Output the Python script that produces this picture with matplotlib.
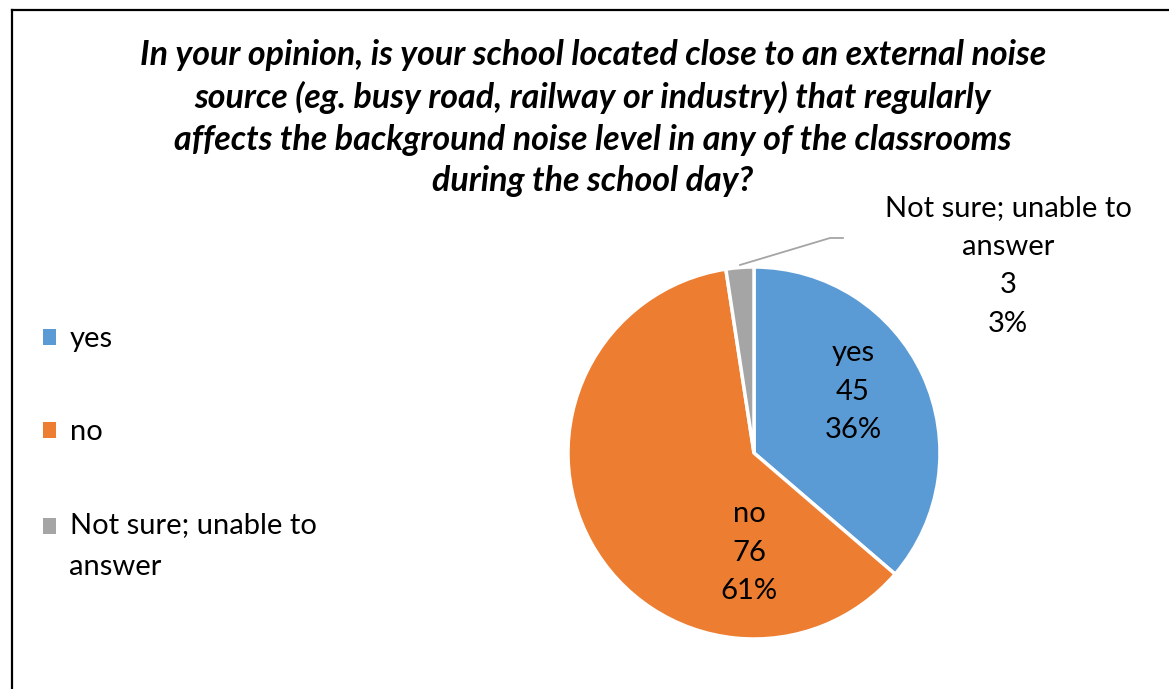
import matplotlib
matplotlib.use('Agg')
import matplotlib.pyplot as plt
from matplotlib.lines import Line2D
from matplotlib.patches import Patch

plt.rcParams['font.family'] = ['Lato', 'DejaVu Sans']

# data
categories = ['yes', 'no', 'Not sure; unable to\nanswer']
counts = [45, 76, 3]
pct_labels = ['36%', '61%', '3%']
colors = ['#5B9BD5', '#ED7D31', '#A5A5A5']
title = ('In your opinion, is your school located close to an external noise\n'
         'source (eg. busy road, railway or industry) that regularly\n'
         'affects the background noise level in any of the classrooms\n'
         'during the school day?')

W, H = 1169, 689
fig = plt.figure(figsize=(W / 100, H / 100), dpi=100)

# pie axes, centre (754, 453) px, radius 186 px
cx, cy, r = 754, 453, 186
ax = fig.add_axes([(cx - r) / W, (H - cy - r) / H, 2 * r / W, 2 * r / H])
wedges, _ = ax.pie(counts, colors=colors, startangle=90, counterclock=False,
                   radius=1, wedgeprops=dict(edgecolor='white', linewidth=2.5))
ax.set_xlim(-1, 1)
ax.set_ylim(-1, 1)
ax.set_aspect('equal')
ax.axis('off')

# data labels (positions picked like excel's best fit)
label_xy = [(0.532, 0.33), (-0.027, -0.535), (1.366, 1.005)]
for name, n, p, (x, y) in zip(categories, counts, pct_labels, label_xy):
    ax.text(x, y, f'{name}\n{n}\n{p}', ha='center', va='center',
            fontsize=21, linespacing=1.6, color='black')

# leader line for small slice
ax.add_line(Line2D([-0.075, 0.409, 0.478], [1.011, 1.156, 1.156],
                   color='#A5A5A5', linewidth=1.3, clip_on=False))

# legend
handles = [Patch(facecolor=c, edgecolor='none') for c in colors]
leg = fig.legend(handles, categories, loc='upper left',
                 bbox_to_anchor=(17 / W, 1 - 300 / H), frameon=False, fontsize=21,
                 handlelength=0.45, handleheight=0.45, handletextpad=0.45,
                 labelspacing=2.3)
for t in leg.get_texts():
    t.set_linespacing(1.75)
# excel puts the marker next to the first line of a wrapped entry
h = leg.legend_handles[2]
h.set_y(h.get_y() + 14.5)

fig.text(593 / W, 1 - 118 / H, title, ha='center', va='center',
         fontsize=24.5, fontweight='bold', fontstyle='italic', linespacing=1.37)

# frame (only top and left edges are in view)
fig.add_artist(Line2D([12 / W, 1], [1 - 10 / H, 1 - 10 / H], color='black',
                      linewidth=1.6, transform=fig.transFigure))
fig.add_artist(Line2D([12 / W, 12 / W], [0, 1 - 10 / H], color='black',
                      linewidth=1.6, transform=fig.transFigure))

fig.savefig('out.png', dpi=100)
